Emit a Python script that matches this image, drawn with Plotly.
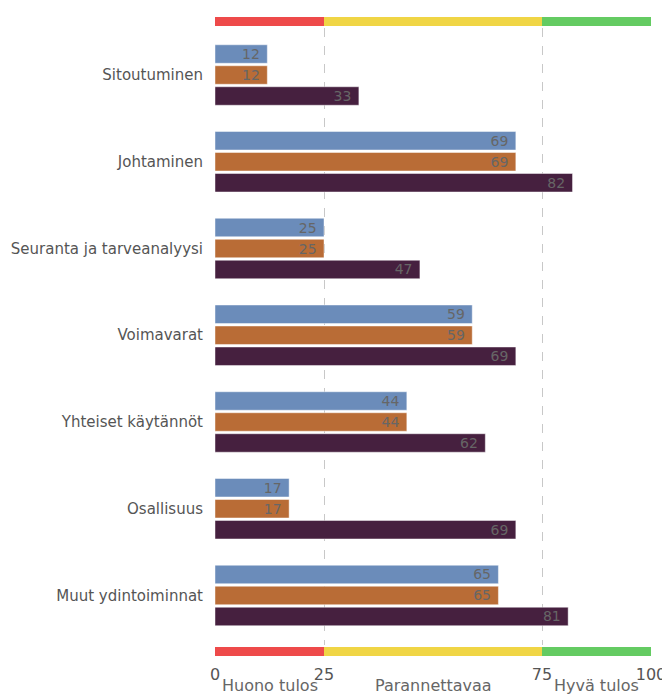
import plotly.graph_objects as go

categories = ["Sitoutuminen", "Johtaminen", "Seuranta ja tarveanalyysi", "Voimavarat",
              "Yhteiset käytännöt", "Osallisuus", "Muut ydintoiminnat"]
series_a = [12, 69, 25, 59, 44, 17, 65]
series_b = [12, 69, 25, 59, 44, 17, 65]
series_c = [33, 82, 47, 69, 62, 69, 81]
series_names = ["Sarja 1", "Sarja 2", "Sarja 3"]

band_edges = [0, 25, 75, 100]
band_labels = ["Huono tulos", "Parannettavaa", "Hyvä tulos"]
tick_values = [0, 25, 75, 100]
tick_labels = ["0", "25", "75", "100"]

series_colors = ["#6b8cba", "#b96c36", "#46203f"]
band_colors = ["#ee4a4a", "#f0d545", "#64cb62"]
FONT = "DejaVu Sans"

fig = go.Figure()
for name, vals, col in zip(series_names, [series_a, series_b, series_c], series_colors):
    fig.add_trace(go.Bar(
        y=categories, x=vals, orientation="h", name=name,
        marker=dict(color=col, line=dict(color="rgba(255,255,255,0.45)", width=1)),
        text=[str(v) + "\u00a0" for v in vals], textposition="inside", insidetextanchor="end",
        constraintext="none", textangle=0,
        insidetextfont=dict(family=FONT, size=14, color="#666666"),
        hoverinfo="x+y",
    ))

shapes = []
annotations = []
for i in range(len(band_labels)):
    x0, x1 = band_edges[i], band_edges[i + 1]
    for y0, y1 in [(2, 11), (-2, -11)]:
        shapes.append(dict(type="rect", xref="x", yref="paper", x0=x0, x1=x1,
                           ysizemode="pixel", yanchor=1 if y0 > 0 else 0,
                           y0=y0, y1=y1, fillcolor=band_colors[i], line=dict(width=0),
                           layer="above"))
    annotations.append(dict(x=(x0 + x1) / 2, y=0, xref="x", yref="paper",
                            yanchor="middle", yshift=-40, showarrow=False,
                            text=band_labels[i],
                            font=dict(family=FONT, size=16, color="#666666")))

# page body has an 8px margin, so the figure is 8px smaller and left/top offsets reduced
fig.update_layout(
    width=662, height=688,
    margin=dict(l=207, r=19, t=20, b=51, autoexpand=False),
    paper_bgcolor="white", plot_bgcolor="white",
    barmode="group", bargap=0.274, bargroupgap=0.12,
    showlegend=False,
    shapes=shapes, annotations=annotations,
    font=dict(family=FONT),
)
fig.update_xaxes(range=[0, 100], tickvals=tick_values, ticktext=tick_labels,
                 showgrid=True, griddash="dash", gridcolor="#c8c8c8", gridwidth=1,
                 zeroline=False, showline=False, ticks="", automargin=False,
                 ticklabelstandoff=18, ticklabeloverflow="allow",
                 tickfont=dict(family=FONT, size=16, color="#555555"))
fig.update_yaxes(range=[6.571, -0.542], showgrid=False, zeroline=False, showline=False,
                 ticks="", ticklabelstandoff=11, automargin=False,
                 tickfont=dict(family=FONT, size=15, color="#555555"))

fig.write_html("out.html")
